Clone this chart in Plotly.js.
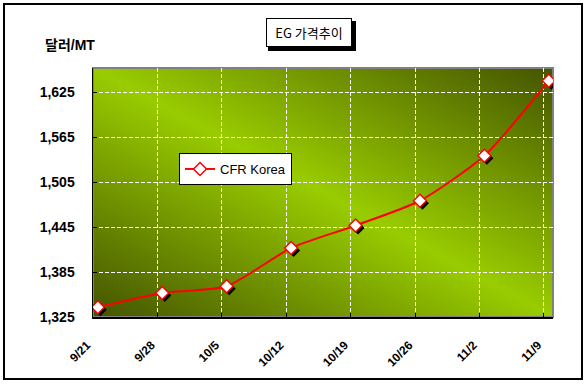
<!DOCTYPE html>
<html>
<head>
<meta charset="utf-8">
<script src="https://cdn.plot.ly/plotly-3.0.1.min.js"></script>
<style>html,body{margin:0;padding:0;background:#fff;}#chart{width:588px;height:388px;}</style>
</head>
<body>
<div id="chart"></div>
<script>
// ---- data ----
const dates = ["9/21", "9/28", "10/5", "10/12", "10/19", "10/26", "11/2", "11/9"];
const cfrKorea = [1338, 1357, 1366, 1417, 1447, 1480, 1540, 1640];
const seriesName = "CFR Korea";
const chartTitle = "EG 가격추이";
const yUnit = "달러/MT";

// ---- layout geometry (pixels) ----
const W = 588, H = 388;
const L = 93, R = 553, T = 68, B = 317;
const pw = R - L, ph = B - T;
const px2x = (p) => (p - L) / pw;
const px2y = (p) => (B - p) / ph;

const idx = dates.map((d, i) => i);
const xRange = [-0.075, 7.065];
const yRange = [1325, 1657];
const gridOffset = -0.075;

const shadowPx = 2.5;
const xu = (xRange[1] - xRange[0]) / pw;
const yu = (yRange[1] - yRange[0]) / ph;
const xRangeShadow = [xRange[0] - shadowPx * xu, xRange[1] - shadowPx * xu];
const yRangeShadow = [yRange[0] + shadowPx * yu, yRange[1] + shadowPx * yu];

const gradSvg = "<svg xmlns='http://www.w3.org/2000/svg' width='460' height='249' viewBox='0 0 460 249' preserveAspectRatio='none'>" +
  "<defs><linearGradient id='g' x1='1' y1='0' x2='0' y2='1'>" +
  "<stop offset='0' stop-color='#445400'/><stop offset='0.5' stop-color='#99cc00'/><stop offset='1' stop-color='#445400'/>" +
  "</linearGradient></defs><rect x='0' y='0' width='460' height='249' fill='url(#g)'/></svg>";
const gradUri = "data:image/svg+xml;charset=utf-8," + encodeURIComponent(gradSvg);

const tickFont = {family: "Liberation Sans, Arial, sans-serif", size: 12, color: "#000", weight: "bold"};

const traces = [
  { // shadow
    x: idx, y: cfrKorea, xaxis: "x", yaxis: "y", type: "scatter", mode: "markers",
    marker: {symbol: "diamond", size: 10, color: "#000"},
    showlegend: false, hoverinfo: "skip"
  },
  {
    x: idx, y: cfrKorea, xaxis: "x3", yaxis: "y3", type: "scatter", mode: "lines+markers",
    name: seriesName,
    line: {color: "#ff0000", width: 2, shape: "spline", smoothing: 0.6},
    marker: {symbol: "diamond", size: 10, color: "#ffffff", line: {color: "#ff0000", width: 1.5}}
  }
];

const hidden = {showgrid: false, zeroline: false, showticklabels: false, ticks: "", showline: false};

const layout = {
  width: W, height: H,
  margin: {l: L, r: W - R, t: T, b: H - B, pad: 0},
  paper_bgcolor: "#ffffff",
  plot_bgcolor: "rgba(0,0,0,0)",
  showlegend: true,
  legend: {
    x: px2x(179), y: px2y(153), xanchor: "left", yanchor: "top",
    bgcolor: "#ffffff", bordercolor: "#000000", borderwidth: 1,
    font: {family: "Liberation Sans, Arial, sans-serif", size: 13, color: "#000"},
    itemwidth: 30, tracegroupgap: 0
  },
  xaxis: Object.assign({range: xRangeShadow, domain: [0, 1], anchor: "y"}, hidden),
  yaxis: Object.assign({range: yRangeShadow, domain: [0, 1], anchor: "x"}, hidden),
  xaxis2: Object.assign({range: xRange, overlaying: "x", anchor: "y2"}, hidden, {
    showgrid: true, gridcolor: "#808080", gridwidth: 1,
    tickmode: "array", tickvals: idx.map(i => i + gridOffset)
  }),
  yaxis2: Object.assign({range: yRange, overlaying: "y", anchor: "x2"}, hidden, {
    showgrid: true, gridcolor: "#808080", gridwidth: 1,
    tickmode: "linear", tick0: 1325, dtick: 60
  }),
  xaxis3: {
    range: xRange, overlaying: "x", anchor: "y3", side: "bottom",
    tickmode: "array", tickvals: idx.map(i => i + gridOffset), ticktext: dates,
    tickangle: -45, tickfont: tickFont,
    showgrid: true, gridcolor: "#ffffff", gridwidth: 1, griddash: "4px,2px",
    zeroline: false, showline: true, linecolor: "#000", linewidth: 1.5,
    ticks: "inside", ticklen: 4, tickcolor: "#000", ticklabelstandoff: 15, ticklabelshift: -6
  },
  yaxis3: {
    range: yRange, overlaying: "y", anchor: "x3", side: "left",
    tickmode: "linear", tick0: 1325, dtick: 60, tickformat: ",d",
    tickfont: Object.assign({}, tickFont, {size: 14}),
    showgrid: true, gridcolor: "#ffffff", gridwidth: 1, griddash: "4px,2px",
    zeroline: false, showline: true, linecolor: "#000", linewidth: 1.5,
    ticks: "inside", ticklen: 4, tickcolor: "#000", ticklabelstandoff: 14
  },
  images: [{
    source: gradUri, xref: "paper", yref: "paper", x: 0, y: 1, sizex: 1, sizey: 1,
    xanchor: "left", yanchor: "top", sizing: "stretch", layer: "below"
  }],
  shapes: [
    {type: "rect", xref: "paper", yref: "paper", x0: 0, x1: 1, y0: 0, y1: 1,
     line: {color: "#808080", width: 2}, layer: "below"},
    {type: "rect", xref: "paper", yref: "paper", x0: px2x(4), x1: px2x(582), y0: px2y(379), y1: px2y(4),
     line: {color: "#000", width: 2}, fillcolor: "rgba(0,0,0,0)", layer: "above"},
    {type: "rect", xref: "paper", yref: "paper", x0: px2x(268), x1: px2x(356), y0: px2y(51), y1: px2y(21),
     line: {color: "#000", width: 0}, fillcolor: "#000", layer: "above"}
  ],
  annotations: [
    {text: chartTitle, xref: "paper", yref: "paper", x: px2x(308.5), y: px2y(32.5),
     xanchor: "center", yanchor: "middle", showarrow: false,
     font: {family: "Noto Sans CJK KR, sans-serif", size: 13, color: "#000"},
     bgcolor: "#ffffff", bordercolor: "#000", borderwidth: 1, borderpad: 3,
     width: 78, height: 21},
    {text: yUnit, xref: "paper", yref: "paper", x: px2x(43), y: px2y(45),
     xanchor: "left", yanchor: "middle", showarrow: false,
     font: {family: "Liberation Sans, Noto Sans CJK KR, sans-serif", size: 14, color: "#000", weight: "bold"}}
  ]
};

Plotly.newPlot("chart", traces, layout, {displayModeBar: false, staticPlot: true});
</script>
</body>
</html>
